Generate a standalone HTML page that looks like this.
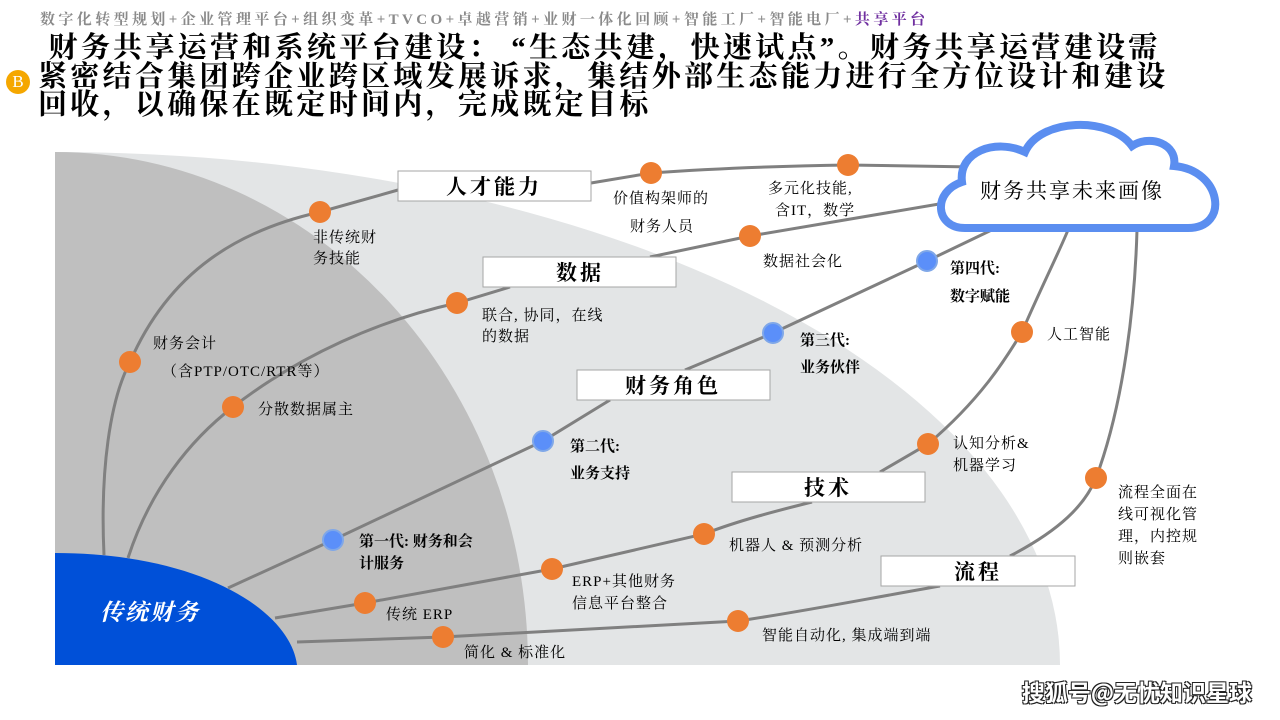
<!DOCTYPE html>
<html><head><meta charset="utf-8"><style>
html,body{margin:0;padding:0;background:#fff;width:1280px;height:720px;overflow:hidden;position:relative;font-family:"Liberation Serif","Noto Serif CJK SC","Noto Serif CJK JP",serif}
.t{position:absolute;white-space:nowrap}
.hd{left:40px;top:8px;font-size:15px;font-weight:bold;color:#8a8a8a;letter-spacing:3.4px}
.ti{left:38px;top:34px;font-size:29px;font-weight:bold;line-height:28.5px;color:#000;letter-spacing:3.3px}
.b{position:absolute;left:6px;top:70px;width:24px;height:24px;border-radius:50%;background:#f5a700;color:#fff;font-size:17px;text-align:center;line-height:24px}
.wm{right:28px;top:674px;font-size:23px;font-family:"Noto Sans CJK SC",sans-serif;color:#fff;text-shadow:-1px -1px 0 #222,1px -1px 0 #222,-1px 1px 0 #222,1px 1px 0 #222;font-weight:bold}
</style></head><body>
<div class="t hd">数字化转型规划+企业管理平台+组织变革+TVCO+卓越营销+业财一体化回顾+智能工厂+智能电厂+<span style="color:#7030a0">共享平台</span></div>
<div class="t ti">&nbsp;财务共享运营和系统平台建设：&nbsp;“生态共建，快速试点”。财务共享运营建设需<br>紧密结合集团跨企业跨区域发展诉求，集结外部生态能力进行全方位设计和建设<br>回收，以确保在既定时间内，完成既定目标</div>
<div class="b">B</div>
<svg width="1280" height="720" style="position:absolute;left:0;top:0" font-family="Liberation Serif, Noto Serif CJK SC, Noto Serif CJK JP, serif">
<path d="M55,152 A1005,513 0 0 1 1060,665 L55,665 Z" fill="#e3e5e6"/>
<path d="M55,152 A473,513 0 0 1 528,665 L55,665 Z" fill="#bfbfbf"/>
<path d="M55,553 C200,553 290,610 297,665 L55,665 Z" fill="#0050d8"/>
<g fill="none" stroke="#808080" stroke-width="3">
<path d="M104,555 C100,470 110,400 130,362 C170,270 240,230 320,212 L398,190"/>
<path d="M591,183 L651,173 C720,168 780,166 848,165 L975,167"/>
<path d="M128,558 C150,490 190,440 233,407 C300,355 380,320 457,303 L510,287"/>
<path d="M650,257 L750,236 L945,203"/>
<path d="M228,588 L333,540 L543,441 L610,400"/>
<path d="M685,370 L773,333 L927,261 L1000,226"/>
<path d="M275,618 L365,603 L552,569 L704,534 C740,520 780,510 812,502"/>
<path d="M880,472 L928,444 C980,400 1005,360 1022,332 C1040,290 1060,250 1068,230"/>
<path d="M297,642 L443,637 L738,621 C800,612 860,600 940,586"/>
<path d="M1010,556 C1060,530 1085,505 1096,478 C1125,400 1135,300 1137,230"/>
</g>
<path d="M965,228 C935,228 932,192 962,182 C958,152 995,138 1025,152 C1040,118 1110,116 1132,146 C1150,134 1178,144 1174,166 C1222,170 1230,228 1188,228 Z" fill="#fff" stroke="#5b8ef0" stroke-width="8"/>
<text x="1072" y="198" font-size="21" text-anchor="middle" letter-spacing="2">财务共享未来画像</text>
<g fill="#fff" stroke="#a6a6a6" stroke-width="1">
<rect x="398" y="171" width="193" height="30"/><rect x="483" y="257" width="193" height="30"/>
<rect x="577" y="370" width="193" height="30"/><rect x="732" y="472" width="193" height="30"/>
<rect x="881" y="556" width="194" height="30"/>
</g>
<g font-size="21" font-weight="bold" text-anchor="middle" letter-spacing="3">
<text x="494" y="194">人才能力</text><text x="580" y="280">数据</text>
<text x="673" y="393">财务角色</text><text x="828" y="495">技术</text><text x="978" y="579">流程</text>
</g>
<g fill="#ed7d31">
<circle cx="320" cy="212" r="11"/><circle cx="130" cy="362" r="11"/><circle cx="233" cy="407" r="11"/>
<circle cx="457" cy="303" r="11"/><circle cx="651" cy="173" r="11"/><circle cx="848" cy="165" r="11"/>
<circle cx="750" cy="236" r="11"/><circle cx="1022" cy="332" r="11"/><circle cx="928" cy="444" r="11"/>
<circle cx="704" cy="534" r="11"/><circle cx="552" cy="569" r="11"/><circle cx="365" cy="603" r="11"/>
<circle cx="443" cy="637" r="11"/><circle cx="738" cy="621" r="11"/><circle cx="1096" cy="478" r="11"/>
</g>
<g fill="#5b8ff9" stroke="#7fa7e8" stroke-width="2">
<circle cx="333" cy="540" r="10"/><circle cx="543" cy="441" r="10"/><circle cx="773" cy="333" r="10"/><circle cx="927" cy="261" r="10"/>
</g>
<g font-size="15" fill="#000" letter-spacing="1">
<text x="313" y="242">非传统财</text><text x="313" y="263">务技能</text>
<text x="153" y="348">财务会计</text><text x="162" y="376">（含PTP/OTC/RTR等）</text>
<text x="258" y="414">分散数据属主</text>
<text x="482" y="320">联合, 协同，在线</text><text x="482" y="341">的数据</text>
<text x="613" y="203">价值构架师的</text><text x="630" y="231">财务人员</text>
<text x="768" y="193">多元化技能,</text><text x="775" y="215">含IT，数学</text>
<text x="763" y="266">数据社会化</text>
<text x="1047" y="339">人工智能</text>
<text x="953" y="448">认知分析&amp;</text><text x="953" y="470">机器学习</text>
<text x="729" y="550">机器人 &amp; 预测分析</text>
<text x="572" y="586">ERP+其他财务</text><text x="572" y="608">信息平台整合</text>
<text x="386" y="619">传统 ERP</text>
<text x="464" y="657">简化 &amp; 标准化</text>
<text x="762" y="640">智能自动化, 集成端到端</text>
<text x="1118" y="497">流程全面在</text><text x="1118" y="519">线可视化管</text><text x="1118" y="541">理，内控规</text><text x="1118" y="563">则嵌套</text>
</g>
<g font-size="15" font-weight="bold" fill="#000">
<text x="950" y="273">第四代:</text><text x="950" y="301">数字赋能</text>
<text x="800" y="345">第三代:</text><text x="800" y="372">业务伙伴</text>
<text x="570" y="451">第二代:</text><text x="570" y="478">业务支持</text>
<text x="359" y="546">第一代: 财务和会</text><text x="359" y="568">计服务</text>
</g>
<text x="100" y="620" font-size="23" font-style="italic" font-weight="bold" fill="#fff" letter-spacing="2">传统财务</text>
</svg>
<div class="t wm">搜狐号@无忧知识星球</div>
</body></html>
